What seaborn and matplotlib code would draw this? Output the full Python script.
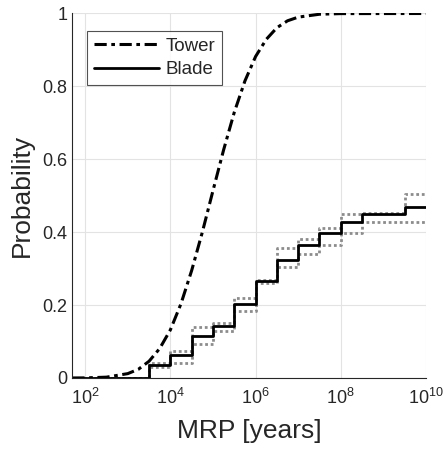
import numpy as np
import pandas as pd
import matplotlib
matplotlib.use("Agg")
import matplotlib.pyplot as plt
import seaborn as sns

# Tower fragility (log10 MRP vs probability)
tower_logx = [1.7, 2.0, 2.5, 3.0, 3.25, 3.5, 3.75, 4.0, 4.25, 4.5, 4.75, 5.0,
              5.25, 5.5, 5.75, 6.0, 6.25, 6.5, 6.75, 7.0, 7.5, 8.0, 10.0]
tower_p = [0.0001, 0.0003, 0.0023, 0.012, 0.024, 0.046, 0.081, 0.132, 0.204, 0.295,
           0.400, 0.514, 0.626, 0.729, 0.815, 0.882, 0.929, 0.961, 0.980, 0.990,
           0.998, 0.9997, 1.0]

# Blade step function (left edges in log10 MRP)
blade_logx = [1.7, 3.5, 4.0, 4.5, 5.0, 5.5, 6.0, 6.5, 7.0, 7.5, 8.0, 8.5, 9.0, 9.5, 10.0]
blade_mean = [0.0, 0.035, 0.062, 0.114, 0.143, 0.204, 0.265, 0.323, 0.366, 0.397,
              0.429, 0.449, 0.449, 0.470, 0.470]
blade_upper = [0.0, 0.040, 0.073, 0.141, 0.152, 0.219, 0.268, 0.357, 0.382, 0.412,
               0.449, 0.454, 0.454, 0.504, 0.504]
blade_lower = [0.0, 0.030, 0.042, 0.093, 0.130, 0.184, 0.262, 0.305, 0.339, 0.366,
               0.399, 0.429, 0.429, 0.429, 0.429]

x_ticks = [1e2, 1e4, 1e6, 1e8, 1e10]
x_ticklabels = ["$10^{2}$", "$10^{4}$", "$10^{6}$", "$10^{8}$", "$10^{10}$"]
y_ticks = [0, 0.2, 0.4, 0.6, 0.8, 1.0]
y_ticklabels = ["0", "0.2", "0.4", "0.6", "0.8", "1"]

sns.set_style("white")
plt.rcParams["font.family"] = ["Liberation Sans", "DejaVu Sans"]
plt.rcParams["mathtext.fontset"] = "custom"
plt.rcParams["mathtext.rm"] = "Liberation Sans"
plt.rcParams["mathtext.it"] = "Liberation Sans"

tdf = pd.DataFrame({"x": 10.0 ** np.array(tower_logx), "p": tower_p})
bdf = pd.DataFrame({"x": 10.0 ** np.array(blade_logx), "mean": blade_mean,
                    "upper": blade_upper, "lower": blade_lower})

fig = plt.figure(figsize=(4.44, 4.5), dpi=100)
ax = fig.add_axes([0.163, 0.16, 0.7965, 0.810])

txt = "#262626"
gray = "#8c8c8c"

sns.lineplot(data=bdf, x="x", y="upper", ax=ax, color=gray, lw=2.0,
             linestyle=(0, (1, 1)), drawstyle="steps-post", legend=False)
sns.lineplot(data=bdf, x="x", y="lower", ax=ax, color=gray, lw=2.0,
             linestyle=(0, (1, 1)), drawstyle="steps-post", legend=False)
sns.lineplot(data=tdf, x="x", y="p", ax=ax, color="black", lw=2.2,
             linestyle=(0, (4, 1.5, 1.2, 1.5)), label="Tower")
sns.lineplot(data=bdf, x="x", y="mean", ax=ax, color="black", lw=2.0,
             drawstyle="steps-post", label="Blade")

ax.set_xscale("log")
ax.set_xlim(10 ** 1.7, 1e10)
ax.set_ylim(0, 1)
ax.set_xticks(x_ticks)
ax.set_xticklabels(x_ticklabels)
ax.set_yticks(y_ticks)
ax.set_yticklabels(y_ticklabels)
ax.xaxis.set_minor_locator(matplotlib.ticker.LogLocator(base=10, subs=np.arange(2, 10), numticks=50))
ax.xaxis.set_minor_formatter(matplotlib.ticker.NullFormatter())

ax.grid(True, which="major", color="#e3e3e3", lw=0.8)
ax.tick_params(axis="both", which="major", direction="in", length=4, width=0.8,
               colors=txt, labelsize=13, labelcolor=txt)
ax.tick_params(axis="x", which="minor", direction="in", length=2, width=0.6, colors=txt)
ax.tick_params(axis="x", which="major", pad=7)
for s in ["top", "right"]:
    ax.spines[s].set_visible(False)
for s in ["left", "bottom"]:
    ax.spines[s].set_color(txt)
    ax.spines[s].set_linewidth(0.8)

ax.set_xlabel("MRP [years]", fontsize=19, color=txt, labelpad=8)
ax.set_ylabel("Probability", fontsize=19, color=txt, labelpad=6)

leg = ax.legend(loc="upper left", bbox_to_anchor=(0.0415, 0.952), borderaxespad=0,
                fontsize=13.5, frameon=True, fancybox=False, handlelength=3.5,
                handletextpad=0.35, borderpad=0.35, labelspacing=0.35)
leg.get_frame().set_edgecolor(txt)
leg.get_frame().set_linewidth(0.8)

fig.savefig("out.png", dpi=100)
